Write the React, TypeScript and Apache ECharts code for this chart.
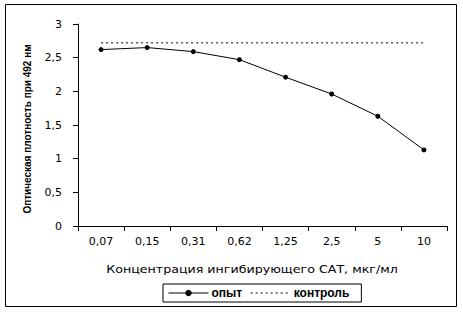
import React, { useEffect, useRef } from "react";
import * as echarts from "echarts";

const categories = ["0,07", "0,15", "0,31", "0,62", "1,25", "2,5", "5", "10"];
const experimentValues = [2.62, 2.65, 2.59, 2.47, 2.21, 1.96, 1.63, 1.13];
const controlValues = [2.72, 2.72, 2.72, 2.72, 2.72, 2.72, 2.72, 2.72];
const seriesNames = ["опыт", "контроль"];
const xTitle = "Концентрация ингибирующего САТ, мкг/мл";
const yTitle = "Оптическая плотность при 492 нм";

export default function App() {
  const ref = useRef<HTMLDivElement>(null);
  useEffect(() => {
    if (!ref.current) return;
    const chart = echarts.init(ref.current, null, { renderer: "svg" });
    chart.setOption({
      animation: false,
      backgroundColor: "#ffffff",
      grid: { left: 78, top: 24, right: 16, bottom: 86, containLabel: false },
      xAxis: {
        type: "category",
        data: categories,
        boundaryGap: true,
        axisLine: { lineStyle: { color: "#000", width: 1 } },
        axisTick: { show: true, inside: false, length: 5, lineStyle: { color: "#000" } },
        axisLabel: { color: "#000", fontFamily: "DejaVu Sans", fontSize: 11, margin: 10 },
        splitLine: { show: false },
      },
      yAxis: {
        type: "value",
        min: 0,
        max: 3,
        interval: 0.5,
        axisLine: { show: true, lineStyle: { color: "#000", width: 1 } },
        axisTick: { show: true, inside: false, length: 5, lineStyle: { color: "#000" } },
        axisLabel: {
          color: "#000",
          fontFamily: "DejaVu Sans",
          fontSize: 11,
          margin: 16,
          formatter: (v: number) => String(v).replace(".", ","),
        },
        splitLine: { show: false },
      },
      legend: {
        left: 163,
        top: 284,
        orient: "horizontal",
        borderColor: "#000",
        borderWidth: 1,
        borderRadius: 0,
        padding: [3, 12, 3, 5],
        itemWidth: 40,
        itemHeight: 8,
        itemGap: 8,
        textStyle: { color: "#000", fontFamily: "Arial", fontWeight: "bold", fontSize: 12, padding: [0, 0, 0, -2] },
        data: [
          { name: seriesNames[0], lineStyle: { width: 1 } },
          { name: seriesNames[1], itemStyle: { opacity: 0 }, lineStyle: { width: 1 } },
        ],
      },
      series: [
        {
          name: seriesNames[0],
          type: "line",
          data: experimentValues,
          symbol: "circle",
          symbolSize: 5,
          itemStyle: { color: "#000" },
          lineStyle: { color: "#000", width: 1 },
        },
        {
          name: seriesNames[1],
          type: "line",
          data: controlValues,
          symbol: "none",
          itemStyle: { color: "#000" },
          lineStyle: { color: "#000", width: 1, type: [2, 3] },
        },
      ],
      graphic: [
        {
          type: "rect",
          shape: { x: 5.5, y: 4.5, width: 451, height: 302 },
          style: { fill: "none", stroke: "#000", lineWidth: 1 },
          silent: true,
        },
        {
          type: "text",
          x: 252,
          y: 269,
          scaleX: 1.15,
          style: {
            text: xTitle,
            font: "11px DejaVu Sans",
            fill: "#000",
            align: "center",
            verticalAlign: "middle",
          },
        },
        {
          type: "text",
          x: 27,
          y: 129,
          rotation: Math.PI / 2,
          style: {
            text: yTitle,
            font: "bold 10px Arial",
            fill: "#000",
            align: "center",
            verticalAlign: "middle",
          },
        },
      ],
    });
    return () => chart.dispose();
  }, []);
  return (
    <div
      ref={ref}
      style={{ position: "fixed", left: 0, top: 0, width: 463, height: 312 }}
    />
  );
}
